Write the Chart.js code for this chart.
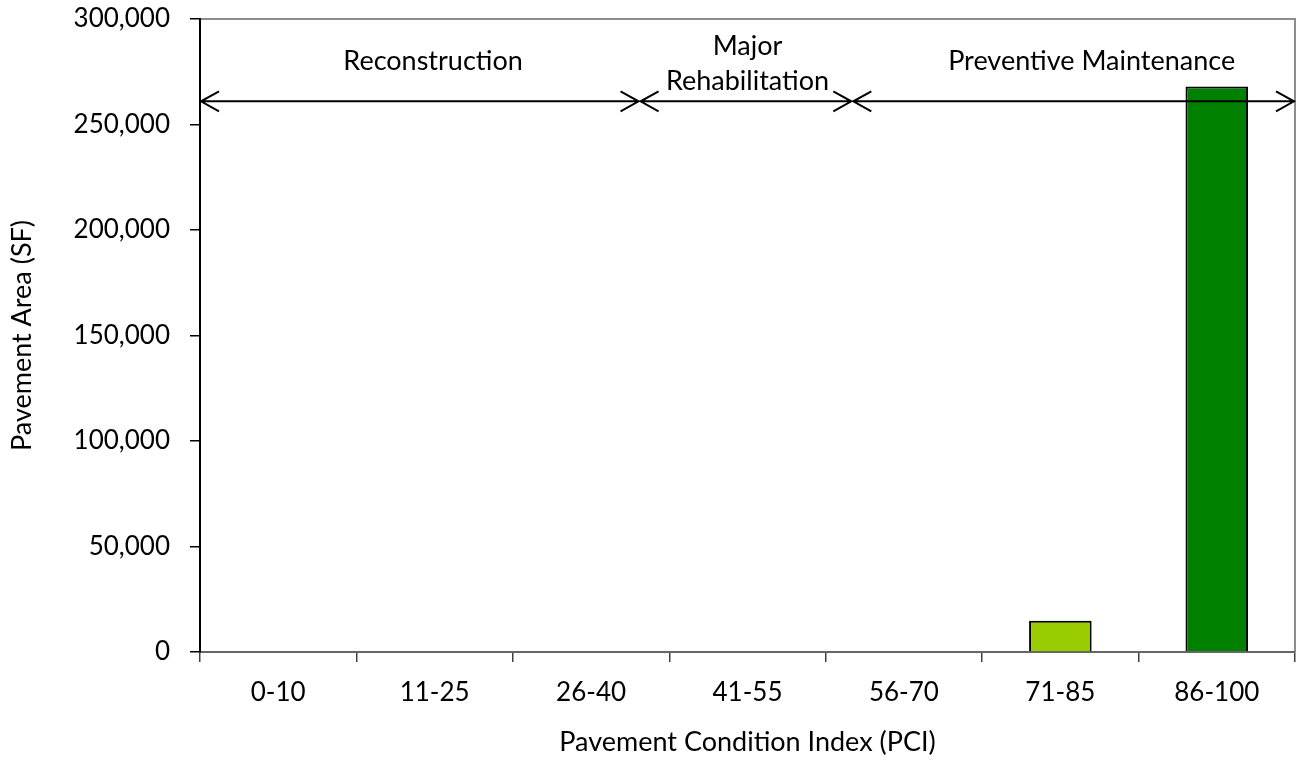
<!DOCTYPE html>
<html>
<head>
<meta charset="utf-8">
<style>
  html, body { margin: 0; padding: 0; background: #fff; }
  #wrap { width: 1296px; height: 761px; }
</style>
<script src="https://cdn.jsdelivr.net/npm/chart.js@4/dist/chart.umd.min.js"></script>
</head>
<body>
<div id="wrap"><canvas id="pciChart"></canvas></div>
<script>
const categories = ['0-10', '11-25', '26-40', '41-55', '56-70', '71-85', '86-100'];
const areaValues = [0, 0, 0, 0, 0, 14800, 268000];
const barColors = ['#99cc00', '#99cc00', '#99cc00', '#99cc00', '#99cc00', '#99cc00', '#008000'];

// treatment bands, in category index units
const bandStarts = [-0.5, 2.31, 3.67];
const bandEnds = [2.31, 3.67, 6.5];
const bandLabelCenters = [0.99, 3.0, 5.2];
const bandLabels = [['Reconstruction'], ['Major', 'Rehabilitation'], ['Preventive Maintenance']];
const bandArrowValue = 261000;

const FONT = 'Lato, "Open Sans", sans-serif';

const bandPlugin = {
    id: 'bands',
    beforeDraw(chart) {
        // plot area frame (top + right)
        const a = chart.chartArea;
        const ctx = chart.ctx;
        ctx.save();
        ctx.strokeStyle = '#8c8c8c';
        ctx.lineWidth = 2;
        ctx.beginPath();
        ctx.moveTo(a.left, a.top);
        ctx.lineTo(a.right, a.top);
        ctx.lineTo(a.right, a.bottom);
        ctx.stroke();
        ctx.restore();
    },
    afterDatasetsDraw(chart) {
        const ctx = chart.ctx;
        const x = chart.scales.x;
        const y = chart.scales.y;
        const yy = y.getPixelForValue(bandArrowValue);
        ctx.save();
        ctx.strokeStyle = '#000';
        ctx.lineWidth = 2;
        bandStarts.forEach((s, i) => {
            const x1 = x.getPixelForValue(s) + 1;
            const x2 = x.getPixelForValue(bandEnds[i]) - 1;
            ctx.beginPath();
            ctx.moveTo(x1, yy);
            ctx.lineTo(x2, yy);
            ctx.moveTo(x1 + 18, yy - 10);
            ctx.lineTo(x1, yy);
            ctx.lineTo(x1 + 18, yy + 10);
            ctx.moveTo(x2 - 18, yy - 10);
            ctx.lineTo(x2, yy);
            ctx.lineTo(x2 - 18, yy + 10);
            ctx.stroke();

            const cx = x.getPixelForValue(bandLabelCenters[i]);
            const lines = bandLabels[i];
            ctx.fillStyle = '#000';
            ctx.font = '27px ' + FONT;
            ctx.textAlign = 'center';
            ctx.textBaseline = 'middle';
            if (lines.length === 1) {
                ctx.fillText(lines[0], cx, yy - 40);
            } else {
                ctx.fillText(lines[0], cx, yy - 55);
                ctx.fillText(lines[1], cx, yy - 20);
            }
        });
        ctx.restore();
    }
};

new Chart(document.getElementById('pciChart').getContext('2d'), {
    type: 'bar',
    data: {
        labels: categories,
        datasets: [{
            label: 'Pavement Area',
            data: areaValues,
            backgroundColor: barColors,
            borderColor: '#000',
            borderWidth: 2,
            barPercentage: 0.4,
            categoryPercentage: 1.0
        }]
    },
    options: {
        responsive: true,
        maintainAspectRatio: false,
        animation: false,
        layout: { padding: { top: 19, right: 1, left: 0, bottom: 0 } },
        plugins: {
            legend: { display: false },
            tooltip: { enabled: false }
        },
        scales: {
            x: {
                afterFit(s) {
                    s.height = 109;
                    s.paddingLeft = 0;
                    s.paddingRight = 0;
                },
                grid: {
                    offset: true,
                    drawOnChartArea: false,
                    tickLength: 10,
                    color: '#404040',
                    lineWidth: 1.5
                },
                border: { color: '#666', width: 2 },
                ticks: {
                    color: '#000',
                    padding: 15,
                    font: { family: FONT, size: 26 }
                },
                title: {
                    display: true,
                    text: 'Pavement Condition Index (PCI)',
                    color: '#000',
                    padding: { top: 4, bottom: 3 },
                    font: { family: FONT, size: 27 }
                }
            },
            y: {
                min: 0,
                max: 300000,
                afterFit(s) {
                    s.width = 200;
                    s.paddingTop = 0;
                    s.paddingBottom = 0;
                },
                grid: {
                    drawOnChartArea: false,
                    tickLength: 10,
                    color: '#000',
                    lineWidth: 1.5
                },
                border: { color: '#000', width: 2 },
                ticks: {
                    stepSize: 50000,
                    color: '#000',
                    padding: 20,
                    font: { family: FONT, size: 26 },
                    callback: v => v.toLocaleString('en-US')
                },
                title: {
                    display: true,
                    text: 'Pavement Area (SF)',
                    color: '#000',
                    padding: { top: 6, bottom: 4 },
                    font: { family: FONT, size: 27 }
                }
            }
        }
    },
    plugins: [bandPlugin]
});
</script>
</body>
</html>
